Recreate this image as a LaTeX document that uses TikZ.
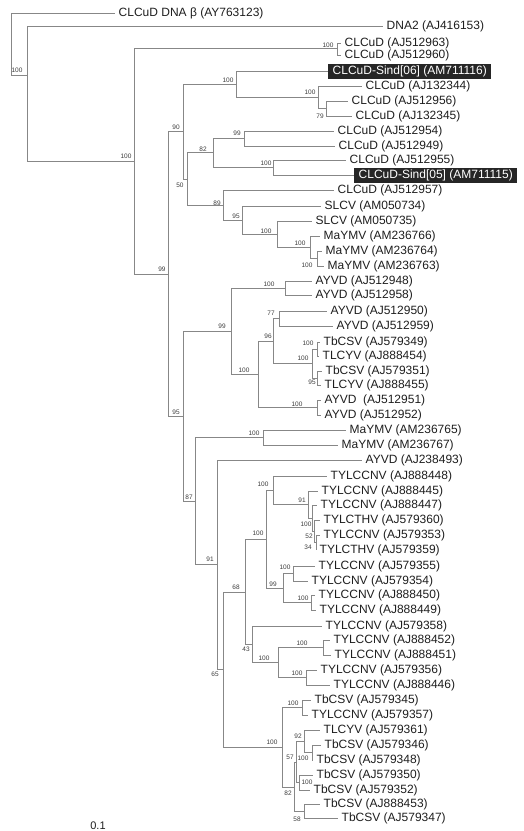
\documentclass[tikz,border=0pt]{standalone}
\usepackage{fontspec}
\setmainfont{Liberation Sans}
\definecolor{branch}{RGB}{135,135,135}
\definecolor{tipink}{RGB}{30,30,30}
\definecolor{bsink}{RGB}{60,60,60}

\begin{document}
\begin{tikzpicture}[x=1pt, y=-1pt,
    edge/.style={draw=branch, line width=0.8pt},
    leaf/.style={anchor=west, inner xsep=3.5pt, inner ysep=0pt, text=tipink,
        font=\fontsize{12}{14}\selectfont},
    sind/.style={leaf, fill=black!85, text=white, inner xsep=4.5pt, minimum height=15pt},
    bs/.style={inner sep=0pt, text=bsink, font=\fontsize{6.5}{7}\selectfont}]
    % 1 unit = 1 px of the figure, y grows downwards
    \useasboundingbox (0,0) rectangle (524,831);

    % Taxa (node placed at the tip of its branch)
    \node[leaf] (AY763123) at (115,13) {CLCuD DNA β (AY763123)};
    \node[leaf] (AJ416153) at (383,26) {DNA2 (AJ416153)};
    \node[leaf] (AJ512963) at (341,43) {CLCuD (AJ512963)};
    \node[leaf] (AJ512960) at (341,55) {CLCuD (AJ512960)};
    \node[sind] (AM711116) at (328,71) {CLCuD-Sind[06] (AM711116)};
    \node[leaf] (AJ132344) at (362,86) {CLCuD (AJ132344)};
    \node[leaf] (AJ512956) at (348,101) {CLCuD (AJ512956)};
    \node[leaf] (AJ132345) at (352,116) {CLCuD (AJ132345)};
    \node[leaf] (AJ512954) at (334,131) {CLCuD (AJ512954)};
    \node[leaf] (AJ512949) at (335,146) {CLCuD (AJ512949)};
    \node[leaf] (AJ512955) at (346,160) {CLCuD (AJ512955)};
    \node[sind] (AM711115) at (354,175) {CLCuD-Sind[05] (AM711115)};
    \node[leaf] (AJ512957) at (334,190) {CLCuD (AJ512957)};
    \node[leaf] (AM050734) at (321,206) {SLCV (AM050734)};
    \node[leaf] (AM050735) at (312,221) {SLCV (AM050735)};
    \node[leaf] (AM236766) at (320,236) {MaYMV (AM236766)};
    \node[leaf] (AM236764) at (322,251) {MaYMV (AM236764)};
    \node[leaf] (AM236763) at (324,266) {MaYMV (AM236763)};
    \node[leaf] (AJ512948) at (312,281) {AYVD (AJ512948)};
    \node[leaf] (AJ512958) at (312,295) {AYVD (AJ512958)};
    \node[leaf] (AJ512950) at (327,311) {AYVD (AJ512950)};
    \node[leaf] (AJ512959) at (333,326) {AYVD (AJ512959)};
    \node[leaf] (AJ579349) at (320,342) {TbCSV (AJ579349)};
    \node[leaf] (AJ888454) at (319,356) {TLCYV (AJ888454)};
    \node[leaf] (AJ579351) at (322,371) {TbCSV (AJ579351)};
    \node[leaf] (AJ888455) at (321,385) {TLCYV (AJ888455)};
    \node[leaf] (AJ512951) at (321,400) {AYVD\ \ (AJ512951)};
    \node[leaf] (AJ512952) at (321,415) {AYVD (AJ512952)};
    \node[leaf] (AM236765) at (346,430) {MaYMV (AM236765)};
    \node[leaf] (AM236767) at (338,445) {MaYMV (AM236767)};
    \node[leaf] (AJ238493) at (362,460) {AYVD (AJ238493)};
    \node[leaf] (AJ888448) at (327,476) {TYLCCNV (AJ888448)};
    \node[leaf] (AJ888445) at (318,491) {TYLCCNV (AJ888445)};
    \node[leaf] (AJ888447) at (317,505) {TYLCCNV (AJ888447)};
    \node[leaf] (AJ579360) at (320,520) {TYLCTHV (AJ579360)};
    \node[leaf] (AJ579353) at (320,535) {TYLCCNV (AJ579353)};
    \node[leaf] (AJ579359) at (316,550) {TYLCTHV (AJ579359)};
    \node[leaf] (AJ579355) at (315,566) {TYLCCNV (AJ579355)};
    \node[leaf] (AJ579354) at (308,581) {TYLCCNV (AJ579354)};
    \node[leaf] (AJ888450) at (315,595) {TYLCCNV (AJ888450)};
    \node[leaf] (AJ888449) at (316,610) {TYLCCNV (AJ888449)};
    \node[leaf] (AJ579358) at (322,626) {TYLCCNV (AJ579358)};
    \node[leaf] (AJ888452) at (330,640) {TYLCCNV (AJ888452)};
    \node[leaf] (AJ888451) at (331,655) {TYLCCNV (AJ888451)};
    \node[leaf] (AJ579356) at (317,670) {TYLCCNV (AJ579356)};
    \node[leaf] (AJ888446) at (330,685) {TYLCCNV (AJ888446)};
    \node[leaf] (AJ579345) at (311,700) {TbCSV (AJ579345)};
    \node[leaf] (AJ579357) at (308,715) {TYLCCNV (AJ579357)};
    \node[leaf] (AJ579361) at (320,730) {TLCYV (AJ579361)};
    \node[leaf] (AJ579346) at (321,745) {TbCSV (AJ579346)};
    \node[leaf] (AJ579348) at (313,760) {TbCSV (AJ579348)};
    \node[leaf] (AJ579350) at (313,775) {TbCSV (AJ579350)};
    \node[leaf] (AJ579352) at (310,790) {TbCSV (AJ579352)};
    \node[leaf] (AJ888453) at (320,804) {TbCSV (AJ888453)};
    \node[leaf] (AJ579347) at (338,818) {TbCSV (AJ579347)};

    % Internal nodes
    \coordinate (nRoot) at (11,44);
    \coordinate (nDNA) at (27,75);
    \coordinate (nBeg) at (134,161);
    \coordinate (n960) at (337,48.5);
    \coordinate (n99a) at (168,274);
    \coordinate (nCLC) at (183,131.5);
    \coordinate (nSind6) at (236,84);
    \coordinate (n344) at (318,97.25);
    \coordinate (n956) at (326,108.5);
    \coordinate (n50) at (187,179);
    \coordinate (n82a) at (213,152.75);
    \coordinate (n954) at (244,138.5);
    \coordinate (nSind5) at (273,167.5);
    \coordinate (n89) at (223,205);
    \coordinate (nSLCV) at (242,220);
    \coordinate (n735) at (277,234);
    \coordinate (nMaY) at (310,247.25);
    \coordinate (n764) at (317,258.5);
    \coordinate (n95a) at (183,416);
    \coordinate (nAYVD) at (231,331);
    \coordinate (n948) at (285,288);
    \coordinate (n100r) at (258,374);
    \coordinate (n96) at (273,341);
    \coordinate (n77) at (279,318.5);
    \coordinate (nTb) at (312,363.5);
    \coordinate (n349) at (317,349);
    \coordinate (n351) at (317,378);
    \coordinate (n951) at (317,407.5);
    \coordinate (n87) at (195,501);
    \coordinate (n765) at (263,437.5);
    \coordinate (n91a) at (217,564.5);
    \coordinate (n65) at (223,669);
    \coordinate (n68) at (245,592);
    \coordinate (nTY) at (266,539.5);
    \coordinate (n448) at (273,490);
    \coordinate (n91b) at (308,504.5);
    \coordinate (n34) at (312,518);
    \coordinate (n360) at (314,531);
    \coordinate (n52) at (316,542.5);
    \coordinate (n99b) at (283,588);
    \coordinate (n355) at (293,573.5);
    \coordinate (n450) at (311,602.5);
    \coordinate (n43) at (252,644.5);
    \coordinate (n100f) at (278,662.5);
    \coordinate (n452) at (323,647.5);
    \coordinate (n356) at (306,677.5);
    \coordinate (nTbC) at (282,747);
    \coordinate (n345) at (302,707.5);
    \coordinate (n82b) at (294,787);
    \coordinate (n57) at (296,762);
    \coordinate (n92) at (304,741);
    \coordinate (n346) at (312,752.5);
    \coordinate (n350) at (299,782.5);
    \coordinate (n58) at (304,811);

    % Branches
    \draw[edge] (nRoot) |- (AY763123.west) (nRoot) |- (nDNA);
    \draw[edge] (nDNA) |- (AJ416153.west) (nDNA) |- (nBeg);
    \draw[edge] (nBeg) |- (n960) (nBeg) |- (n99a);
    \draw[edge] (n960) |- (AJ512963.west) (n960) |- (AJ512960.west);
    \draw[edge] (n99a) |- (nCLC) (n99a) |- (n95a);
    \draw[edge] (nCLC) |- (nSind6) (nCLC) |- (n50);
    \draw[edge] (nSind6) |- (AM711116.west) (nSind6) |- (n344);
    \draw[edge] (n344) |- (AJ132344.west) (n344) |- (n956);
    \draw[edge] (n956) |- (AJ512956.west) (n956) |- (AJ132345.west);
    \draw[edge] (n50) |- (n82a) (n50) |- (n89);
    \draw[edge] (n82a) |- (n954) (n82a) |- (nSind5);
    \draw[edge] (n954) |- (AJ512954.west) (n954) |- (AJ512949.west);
    \draw[edge] (nSind5) |- (AJ512955.west) (nSind5) |- (AM711115.west);
    \draw[edge] (n89) |- (AJ512957.west) (n89) |- (nSLCV);
    \draw[edge] (nSLCV) |- (AM050734.west) (nSLCV) |- (n735);
    \draw[edge] (n735) |- (AM050735.west) (n735) |- (nMaY);
    \draw[edge] (nMaY) |- (AM236766.west) (nMaY) |- (n764);
    \draw[edge] (n764) |- (AM236764.west) (n764) |- (AM236763.west);
    \draw[edge] (n95a) |- (nAYVD) (n95a) |- (n87);
    \draw[edge] (nAYVD) |- (n948) (nAYVD) |- (n100r);
    \draw[edge] (n948) |- (AJ512948.west) (n948) |- (AJ512958.west);
    \draw[edge] (n100r) |- (n96) (n100r) |- (n951);
    \draw[edge] (n96) |- (n77) (n96) |- (nTb);
    \draw[edge] (n77) |- (AJ512950.west) (n77) |- (AJ512959.west);
    \draw[edge] (nTb) |- (n349) (nTb) |- (n351);
    \draw[edge] (n349) |- (AJ579349.west) (n349) |- (AJ888454.west);
    \draw[edge] (n351) |- (AJ579351.west) (n351) |- (AJ888455.west);
    \draw[edge] (n951) |- (AJ512951.west) (n951) |- (AJ512952.west);
    \draw[edge] (n87) |- (n765) (n87) |- (n91a);
    \draw[edge] (n765) |- (AM236765.west) (n765) |- (AM236767.west);
    \draw[edge] (n91a) |- (AJ238493.west) (n91a) |- (n65);
    \draw[edge] (n65) |- (n68) (n65) |- (nTbC);
    \draw[edge] (n68) |- (nTY) (n68) |- (n43);
    \draw[edge] (nTY) |- (n448) (nTY) |- (n99b);
    \draw[edge] (n448) |- (AJ888448.west) (n448) |- (n91b);
    \draw[edge] (n91b) |- (AJ888445.west) (n91b) |- (n34);
    \draw[edge] (n34) |- (AJ888447.west) (n34) |- (n360);
    \draw[edge] (n360) |- (AJ579360.west) (n360) |- (n52);
    \draw[edge] (n52) |- (AJ579353.west) (n52) |- (AJ579359.west);
    \draw[edge] (n99b) |- (n355) (n99b) |- (n450);
    \draw[edge] (n355) |- (AJ579355.west) (n355) |- (AJ579354.west);
    \draw[edge] (n450) |- (AJ888450.west) (n450) |- (AJ888449.west);
    \draw[edge] (n43) |- (AJ579358.west) (n43) |- (n100f);
    \draw[edge] (n100f) |- (n452) (n100f) |- (n356);
    \draw[edge] (n452) |- (AJ888452.west) (n452) |- (AJ888451.west);
    \draw[edge] (n356) |- (AJ579356.west) (n356) |- (AJ888446.west);
    \draw[edge] (nTbC) |- (n345) (nTbC) |- (n82b);
    \draw[edge] (n345) |- (AJ579345.west) (n345) |- (AJ579357.west);
    \draw[edge] (n82b) |- (n57) (n82b) |- (n58);
    \draw[edge] (n57) |- (n92) (n57) |- (n350);
    \draw[edge] (n92) |- (AJ579361.west) (n92) |- (n346);
    \draw[edge] (n346) |- (AJ579346.west) (n346) |- (AJ579348.west);
    \draw[edge] (n350) |- (AJ579350.west) (n350) |- (AJ579352.west);
    \draw[edge] (n58) |- (AJ888453.west) (n58) |- (AJ579347.west);

    % Bootstrap values
    \node[bs] (bRoot) at (17,70) {100};
    \node[bs] (bBeg) at (126,156) {100};
    \node[bs] (b960) at (328,45) {100};
    \node[bs] (bSind6) at (228,80) {100};
    \node[bs] (b344) at (310,92) {100};
    \node[bs] (b956) at (320,116) {79};
    \node[bs] (bCLC) at (176,127) {90};
    \node[bs] (b50) at (180,185) {50};
    \node[bs] (b82a) at (203,149) {82};
    \node[bs] (b954) at (237,133) {99};
    \node[bs] (bSind5) at (266,163) {100};
    \node[bs] (b89) at (217,203) {89};
    \node[bs] (bSLCV) at (236,216) {95};
    \node[bs] (b735) at (266,231) {100};
    \node[bs] (bMaY) at (300,243) {100};
    \node[bs] (b764) at (307,265) {100};
    \node[bs] (b99a) at (162,269) {99};
    \node[bs] (b95a) at (176,412) {95};
    \node[bs] (bAYVD) at (222,326) {99};
    \node[bs] (b948) at (269,284) {100};
    \node[bs] (b100r) at (244,370) {100};
    \node[bs] (b96) at (268,336) {96};
    \node[bs] (b77) at (271,313) {77};
    \node[bs] (bTb) at (303,358) {100};
    \node[bs] (b349) at (308,343) {100};
    \node[bs] (b351) at (312,382) {95};
    \node[bs] (b951) at (297,404) {100};
    \node[bs] (b87) at (189,497) {87};
    \node[bs] (b765) at (254,433) {100};
    \node[bs] (b91a) at (210,559) {91};
    \node[bs] (b65) at (215,674) {65};
    \node[bs] (b68) at (236,587) {68};
    \node[bs] (bTY) at (258,533) {100};
    \node[bs] (b448) at (263,484) {100};
    \node[bs] (b91b) at (302,500) {91};
    \node[bs] (b360) at (306,524) {100};
    \node[bs] (b52) at (309,536) {52};
    \node[bs] (b34) at (308,547) {34};
    \node[bs] (b99b) at (273,584) {99};
    \node[bs] (b355) at (285,567) {100};
    \node[bs] (b450) at (303,598) {100};
    \node[bs] (b43) at (246,649) {43};
    \node[bs] (b100f) at (264,658) {100};
    \node[bs] (b452) at (302,643) {100};
    \node[bs] (b356) at (297,673) {100};
    \node[bs] (bTbC) at (272,742) {100};
    \node[bs] (b345) at (293,703) {100};
    \node[bs] (b92) at (298,736) {92};
    \node[bs] (b57) at (290,757) {57};
    \node[bs] (b346) at (303,758) {100};
    \node[bs] (b350) at (307,782) {100};
    \node[bs] (b82b) at (288,793) {82};
    \node[bs] (b58) at (297,819) {58};

    % Scale bar label
    \node[anchor=south, inner sep=0pt, text=tipink, font=\fontsize{11}{13}\selectfont]
        (scale) at (98,830) {0.1};
\end{tikzpicture}
\end{document}
